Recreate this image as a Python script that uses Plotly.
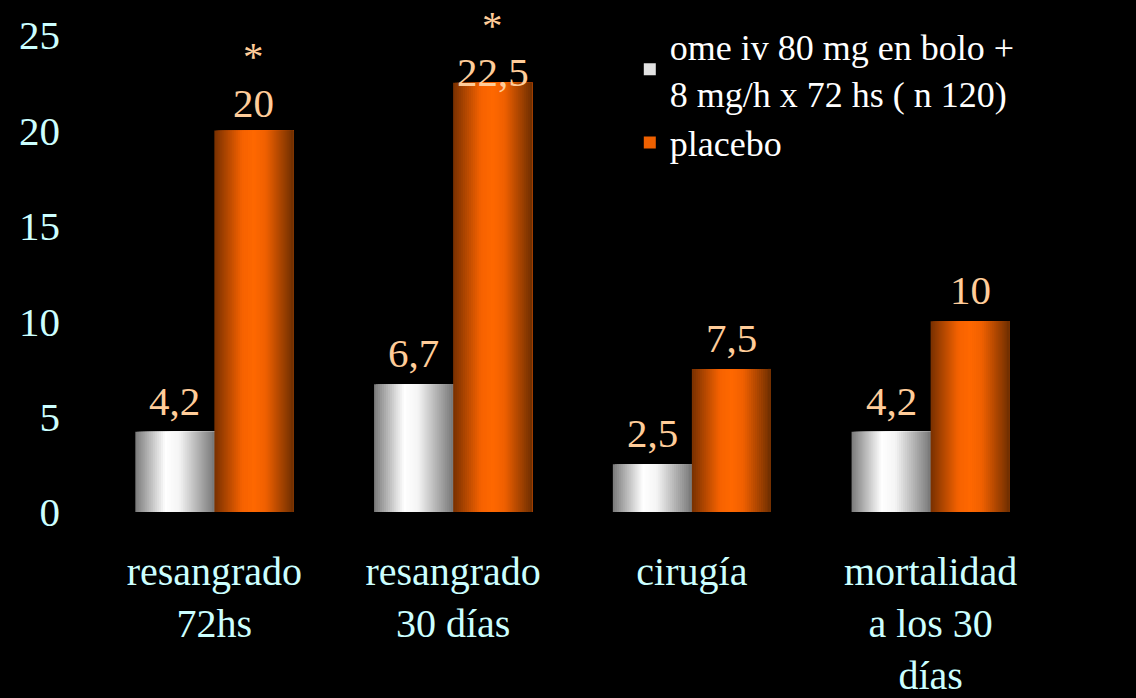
import plotly.graph_objects as go

# ---- data ----
categories = ["resangrado<br>72hs", "resangrado<br>30 días", "cirugía", "mortalidad<br>a los 30<br>días"]
ome_values = [4.2, 6.7, 2.5, 4.2]
placebo_values = [20, 22.5, 7.5, 10]
ome_labels = ["4,2", "6,7", "2,5", "4,2"]
placebo_labels = ["20", "22,5", "7,5", "10"]
significance = ["*", "*", "", ""]
series_names = ["ome iv 80 mg en bolo +<br>8 mg/h x 72 hs ( n 120)", "placebo"]
y_ticks = [0, 5, 10, 15, 20, 25]

# ---- style ----
FONT = "Liberation Serif"
BAR_W = 0.331
N_SLICES = 40
label_yshift_ome = [6, 6, 6, 6]
label_yshift_placebo = [2, -14, 6, 6]
STAR_OFFSET = 47

def interp(stops, t):
    for (t0, c0), (t1, c1) in zip(stops, stops[1:]):
        if t0 <= t <= t1:
            f = (t - t0) / (t1 - t0) if t1 > t0 else 0
            return "rgb({},{},{})".format(*[round(a + (b - a) * f) for a, b in zip(c0, c1)])
    return "rgb({},{},{})".format(*stops[-1][1])

gray_stops = [(0.0, (122, 122, 122)), (0.38, (255, 255, 255)), (0.55, (245, 245, 245)), (1.0, (120, 120, 120))]
orange_stops = [(0.0, (120, 48, 0)), (0.35, (245, 98, 0)), (0.5, (255, 104, 0)), (0.65, (240, 96, 0)), (1.0, (110, 46, 0))]

fig = go.Figure()
idx = list(range(len(categories)))
w = BAR_W / N_SLICES
for values, stops, base in [(ome_values, gray_stops, -BAR_W), (placebo_values, orange_stops, 0.0)]:
    for i in range(N_SLICES):
        t = (i + 0.5) / N_SLICES
        # each slice extends to the bar's right edge; later slices cover earlier ones (no seams)
        fig.add_trace(go.Bar(
            x=idx, y=values, width=(N_SLICES - i) * w, offset=base + i * w,
            marker=dict(color=interp(stops, t), line=dict(width=0)),
            showlegend=False, hoverinfo="skip"))

# legend-only entries
for name, color in zip(series_names, ["#e2e2e2", "#ee6000"]):
    fig.add_trace(go.Bar(x=[0], y=[0], width=0.0001, name=name,
                         marker=dict(color=color, line=dict(width=0)), showlegend=True))

label_color = "#ffcc99"
lab_font = dict(family=FONT, size=41, color=label_color)
for i in idx:
    fig.add_annotation(x=i - BAR_W / 2, y=ome_values[i], xref="x", yref="y",
                       text=ome_labels[i], showarrow=False, yanchor="bottom",
                       yshift=label_yshift_ome[i], font=lab_font)
    fig.add_annotation(x=i + BAR_W / 2, y=placebo_values[i], xref="x", yref="y",
                       text=placebo_labels[i], showarrow=False, yanchor="bottom",
                       yshift=label_yshift_placebo[i], font=lab_font)
    if significance[i]:
        fig.add_annotation(x=i + BAR_W / 2, y=placebo_values[i], xref="x", yref="y",
                           text=significance[i], showarrow=False, yanchor="bottom",
                           yshift=label_yshift_placebo[i] + STAR_OFFSET, font=lab_font)

fig.update_layout(
    width=1136, height=698,
    paper_bgcolor="black", plot_bgcolor="black",
    barmode="overlay",
    margin=dict(l=95, r=86, t=35, b=186, autoexpand=False),
    font=dict(family=FONT, size=41, color="#ccffff"),
    legend=dict(x=0.56, y=1.04, xanchor="left", yanchor="top",
                font=dict(family=FONT, size=36, color="white"),
                bgcolor="rgba(0,0,0,0)", tracegroupgap=4),
    xaxis=dict(range=[-0.5, 3.5], tickvals=idx, ticktext=categories, automargin=False,
               showgrid=False, zeroline=False, showline=False, ticks="",
               tickfont=dict(family=FONT, size=40, color="#ccffff"), ticklabelstandoff=32),
    yaxis=dict(range=[0, 25], tickvals=y_ticks, showgrid=False, zeroline=False, automargin=False,
               showline=False, ticks="",
               tickfont=dict(family=FONT, size=41, color="#ccffff"), ticklabelstandoff=34),
)

fig.write_html("out.html", config={"displayModeBar": False},
               post_script="document.body.style.margin='0';document.body.style.background='black';")
